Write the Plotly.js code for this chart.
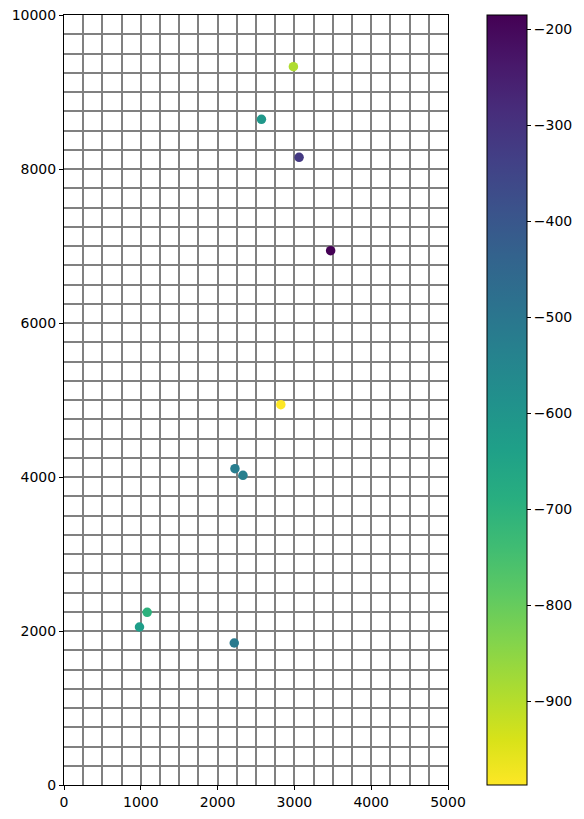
<!DOCTYPE html>
<html>
<head>
<meta charset="utf-8">
<script src="https://cdn.plot.ly/plotly-3.0.1.min.js"></script>
<style>html,body{margin:0;padding:0;background:#fff}</style>
</head>
<body>
<div id="chart" style="width:584px;height:819px"></div>
<script>
const xVals = [2987, 2571, 3061, 3472, 2823, 2226, 2330, 1083, 983, 2217];
const yVals = [9329, 8645, 8152, 6939, 4939, 4108, 4022, 2243, 2052, 1844];
const cVals = [-891, -612, -318, -185.4, -987.5, -522, -528, -700, -632, -512];

const font = {family: 'DejaVu Sans', size: 14, color: '#000'};

const trace = {
  type: 'scatter', mode: 'markers',
  x: xVals, y: yVals,
  marker: {
    size: 9.5, color: cVals, colorscale: 'Viridis', reversescale: true,
    cmin: Math.min(...cVals), cmax: Math.max(...cVals),
    line: {width: 0},
    showscale: true,
    colorbar: {
      x: 1.0987, xanchor: 'left', xref: 'paper', y: 0, yanchor: 'bottom', len: 1,
      thickness: 40, thicknessmode: 'pixels', xpad: 0, ypad: 0,
      outlinewidth: 1, outlinecolor: '#000',
      ticks: 'outside', ticklen: 4, tickwidth: 1, tickcolor: '#000',
      tick0: 0, dtick: 100, tickformat: 'd', tickfont: font
    }
  },
  hoverinfo: 'x+y'
};

const axisCommon = {
  showline: true, linecolor: '#000', linewidth: 1, mirror: true,
  ticks: 'outside', ticklen: 4, tickwidth: 1, tickcolor: '#000',
  showgrid: true, gridcolor: '#808080', gridwidth: 2, zeroline: false,
  tickfont: font, tickformat: 'd',
  minor: {dtick: 250, tick0: 0, showgrid: true, gridcolor: '#808080', gridwidth: 2, ticks: ''}
};

const layout = {
  width: 584, height: 819,
  margin: {l: 64, r: 135, t: 15, b: 34},
  paper_bgcolor: '#fff', plot_bgcolor: '#fff',
  showlegend: false,
  font: font,
  xaxis: Object.assign({}, axisCommon, {range: [0, 5000], tick0: 0, dtick: 1000}),
  yaxis: Object.assign({}, axisCommon, {range: [0, 10000], tick0: 0, dtick: 2000})
};

Plotly.newPlot('chart', [trace], layout, {displayModeBar: false, staticPlot: true});
</script>
</body>
</html>
